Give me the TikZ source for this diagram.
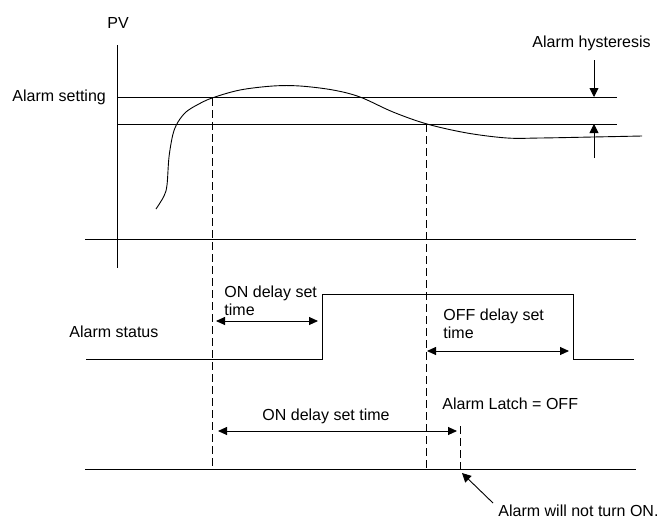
\documentclass[tikz,border=0pt]{standalone}
\usepackage{fontspec}
\setmainfont{Liberation Sans}
\usetikzlibrary{arrows.meta}

\begin{document}
\begin{tikzpicture}[x=1pt, y=-1pt, line width=0.9pt,
  lbl/.style={inner sep=0pt, font=\fontsize{16}{18}\selectfont, align=left},
  guide/.style={dash pattern=on 8pt off 4pt},
  span/.style={{Triangle[length=9pt,width=8pt]}-{Triangle[length=9pt,width=8pt]}},
  tip/.style={-{Triangle[length=9pt,width=9pt]}}]
\useasboundingbox (0,0) rectangle (664,520);

% PV chart
\draw (117,45) -- (117,268);
\draw (117,97) -- (617,97);
\draw (117,124) -- (617,124);
\draw (85,239) -- (636,239);
\draw plot[smooth, tension=0.55] coordinates {(156,209) (164,196) (167,185) (169,157) (173,134) (178,122) (186,112) (197,105) (212,98) (240,90) (273,86) (300,86) (333,90) (360,97) (393,112) (427,124) (467,133) (507,138) (540,138) (593,137) (642,136)};
\node[lbl, anchor=base west] (pv) at (107,28) {PV};
\node[lbl, anchor=base west] (setting) at (12,101) {Alarm setting};
\node[lbl, anchor=base west] (hyst) at (532,47) {Alarm hysteresis};
\draw[tip] (594,60) -- (594,97);
\draw[tip] (594,158) -- (594,124);

% alarm status
\draw (86,359) -- (322,359) -- (322,294) -- (573,294) -- (573,359) -- (634,359);
\node[lbl, anchor=base west] (status) at (69,337) {Alarm status};
\node[lbl, anchor=north west] (ondly) at (224,285) {ON delay set\\time};
\draw[span] (216,321) -- (318,321);
\node[lbl, anchor=north west] (offdly) at (443,308) {OFF delay set\\time};
\draw[span] (427,351) -- (569,351);

% latch off
\draw (85,469) -- (636,469);
\node[lbl, anchor=base west] (ondly2) at (262,420) {ON delay set time};
\draw[span] (218,431) -- (457,431);
\node[lbl, anchor=base west] (latch) at (442,409) {Alarm Latch = OFF};
\node[lbl, anchor=base west] (noton) at (498,516) {Alarm will not turn ON.};
\coordinate (notip) at (462,473);
\draw[tip] (493,503) -- (notip);

% guides
\draw[guide] (212,98) -- (212,469);
\draw[guide] (426,124) -- (426,469);
\draw[guide] (460,426) -- (460,469);
\end{tikzpicture}
\end{document}
